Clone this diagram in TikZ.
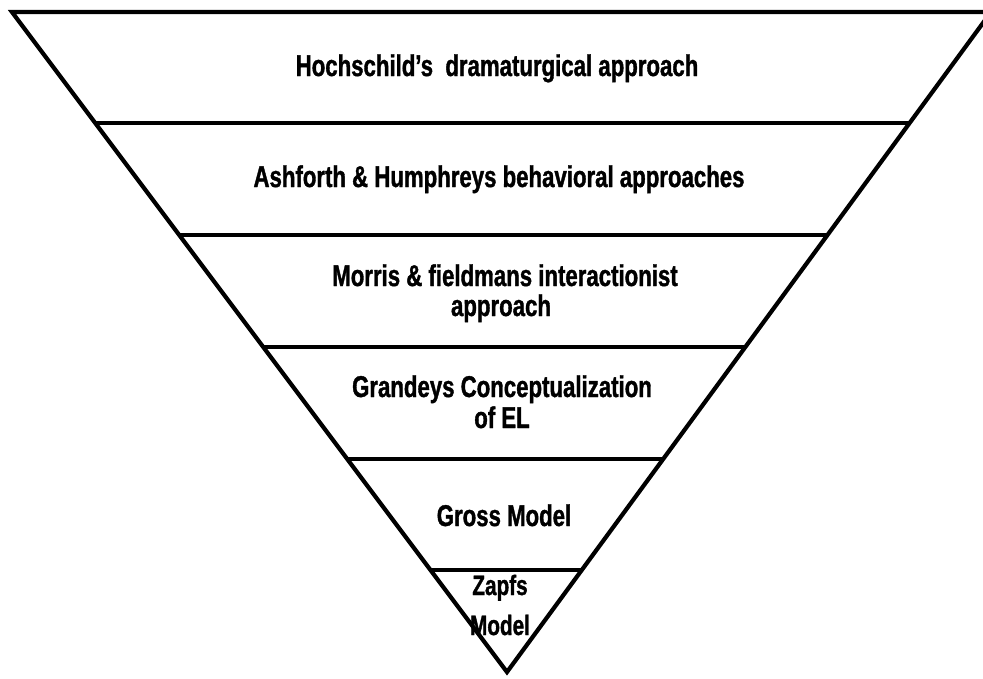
\documentclass[tikz,border=0pt]{standalone}
\usepackage{fontspec}
\usetikzlibrary{calc}
\newfontfamily\bandfont{Liberation Sans}[FakeStretch=0.74,FakeBold=1.2]
\begin{document}
\begin{tikzpicture}[x=1pt,y=-1pt,
  edge/.style={line width=4.2pt,line join=miter,line cap=butt},
  lbl/.style={anchor=base,inner sep=0pt,font=\bandfont\bfseries\fontsize{30}{33}\selectfont},
  small/.style={anchor=base,inner sep=0pt,font=\bandfont\bfseries\fontsize{28}{31}\selectfont}]
\useasboundingbox (0,0) rectangle (983,678);
% outer inverted triangle
\coordinate (tl) at (12,12);
\coordinate (tr) at (991,12);
\coordinate (apex) at (507,672);
\draw[edge] (tl) -- (apex) -- (tr) -- cycle;
% divider levels
\foreach \name/\yy in {a/123,b/235,c/347,d/459,e/570}{
  \coordinate (\name L) at ($(tl)!{(\yy-12)/660}!(apex)$);
  \coordinate (\name R) at ($(tr)!{(\yy-12)/660}!(apex)$);
  \draw[edge] (\name L) -- (\name R);
}
% band labels
\node[lbl] (hoch) at (497,76) {Hochschild’s~ dramaturgical approach};
\node[lbl] (ash) at (499,187) {Ashforth \& Humphreys behavioral approaches};
\node[lbl] (morris) at (505,286) {Morris \& fieldmans interactionist};
\node[lbl] (morrisb) at (501,316) {approach};
\node[lbl] (grand) at (502,397) {Grandeys Conceptualization};
\node[lbl] (grandb) at (502,428) {of EL};
\node[lbl] (gross) at (504,526) {Gross Model};
\node[small] (zapfs) at (500,595) {Zapfs};
\node[small] (zapfsb) at (500,635) {Model};
\end{tikzpicture}
\end{document}
